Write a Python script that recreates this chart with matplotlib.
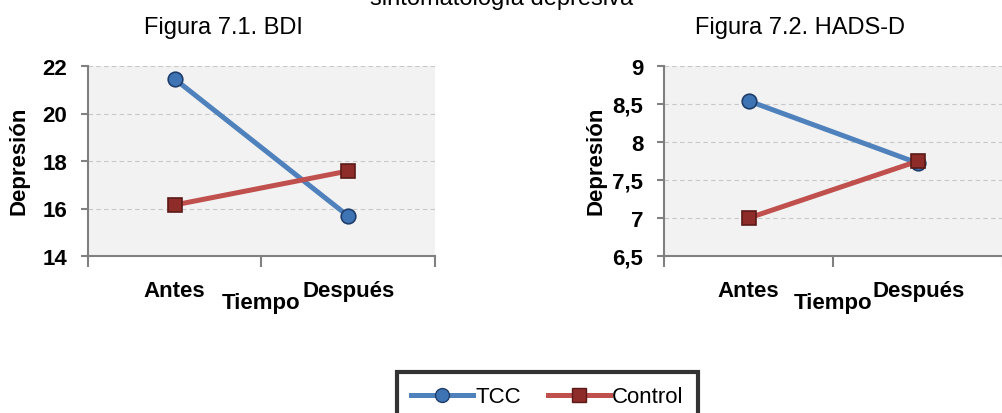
import matplotlib
matplotlib.use("Agg")
import matplotlib.pyplot as plt
from matplotlib.lines import Line2D

plt.rcParams['font.family'] = ['Liberation Sans', 'DejaVu Sans']

# data
tiempos = ['Antes', 'Después']
bdi_tcc = [21.45, 15.68]
bdi_control = [16.15, 17.58]
hads_tcc = [8.54, 7.72]
hads_control = [7.0, 7.75]
bdi_ticks = [14, 16, 18, 20, 22]
hads_ticks = [6.5, 7, 7.5, 8, 8.5, 9]
hads_labels = ['6,5', '7', '7,5', '8', '8,5', '9']

blue = '#4f81bd'
red = '#c0504d'

fig = plt.figure(figsize=(10.03, 4.14), dpi=100)

fig.text(0.5, 1 - 5/414, 'sintomatología depresiva', ha='center', va='baseline', fontsize=17)


def panel(rect, tcc, ctrl, ticks, labels, title, title_x):
    ax = fig.add_axes(rect)
    ax.set_facecolor('#f2f2f2')
    x = [0, 1]
    ax.plot(x, tcc, color=blue, lw=3.6, marker='o', ms=10.5,
            mfc='#3f74b4', mec='#1f3d6b', mew=1.2, zorder=3)
    ax.plot(x, ctrl, color=red, lw=3.6, marker='s', ms=10.5,
            mfc='#8e2c2a', mec='#5a1a18', mew=1.2, zorder=3)
    ax.set_xlim(-0.5, 1.5)
    ax.set_ylim(ticks[0], ticks[-1])
    ax.set_yticks(ticks)
    ax.set_yticklabels(labels, fontsize=16, fontweight='bold')
    ax.set_xticks([-0.5, 0.5, 1.5])
    ax.set_xticklabels([])
    ax.set_xticks(x, minor=True)
    ax.set_xticklabels(tiempos, minor=True, fontsize=16, fontweight='bold')
    ax.tick_params(axis='x', which='major', length=8, width=1.5, color='#808080', direction='out')
    ax.tick_params(axis='x', which='minor', length=0, pad=17)
    ax.tick_params(axis='y', length=5, width=1.5, color='#808080', pad=10)
    for y in ticks[1:]:
        ax.axhline(y, color='#c8c8c8', lw=0.8, ls=(0, (4, 3)), zorder=1)
    for s in ['top', 'right']:
        ax.spines[s].set_visible(False)
    for s in ['left', 'bottom']:
        ax.spines[s].set_color('#808080')
        ax.spines[s].set_linewidth(1.5)
    ax.set_ylabel('Depresión', fontsize=16, fontweight='bold')
    ax.yaxis.set_label_coords(-0.17, 0.505)
    ax.set_xlabel('Tiempo', fontsize=16, fontweight='bold')
    ax.xaxis.set_label_coords(0.5, -0.19)
    fig.text(title_x, 1 - 28/414, title, ha='center', va='center', fontsize=17)
    return ax


panel([88/1003, 1 - 257/414, 347/1003, 190/414], bdi_tcc, bdi_control,
      bdi_ticks, [str(t) for t in bdi_ticks], 'Figura 7.1. BDI', 223/1003)
panel([664/1003, 1 - 257/414, 339/1003, 190/414], hads_tcc, hads_control,
      hads_ticks, hads_labels, 'Figura 7.2. HADS-D', 800/1003)

handles = [
    Line2D([], [], color=blue, lw=3.6, marker='o', ms=10, mfc='#3f74b4', mec='#1f3d6b'),
    Line2D([], [], color=red, lw=3.6, marker='s', ms=10, mfc='#8e2c2a', mec='#5a1a18'),
]
leg = fig.legend(handles, ['TCC', 'Control'], loc='upper center',
                 bbox_to_anchor=(547.5/1003, 1 - 373/414), ncol=2, fontsize=16,
                 frameon=True, fancybox=False, handlelength=2.8, handletextpad=0.1,
                 columnspacing=1.2, borderpad=0.65, borderaxespad=0)
leg.get_frame().set_edgecolor('black')
leg.get_frame().set_linewidth(3)

fig.savefig('out.png', dpi=100)
